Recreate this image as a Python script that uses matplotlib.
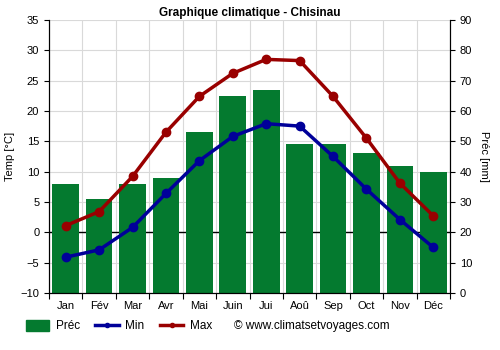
import matplotlib
matplotlib.use("Agg")
import matplotlib.pyplot as plt
from matplotlib.patches import Patch
from matplotlib.lines import Line2D

# Monthly climate normals for Chisinau
months = ['Jan', 'Fév', 'Mar', 'Avr', 'Mai', 'Juin', 'Jui', 'Aoû', 'Sep', 'Oct', 'Nov', 'Déc']
precip = [36, 31, 36, 38, 53, 65, 67, 49, 49, 46, 42, 40]
t_min = [-4.1, -2.9, 0.8, 6.4, 11.8, 15.8, 17.9, 17.5, 12.5, 7.1, 2.1, -2.5]
t_max = [1.1, 3.4, 9.2, 16.5, 22.4, 26.2, 28.5, 28.3, 22.4, 15.5, 8.1, 2.7]

green = '#047a2f'
red = '#990000'
blue = '#000099'
grid_col = '#d9d9d9'

plt.rcParams['font.family'] = ['Liberation Sans', 'DejaVu Sans']
plt.rcParams['font.size'] = 8

fig, ax1 = plt.subplots(figsize=(5, 3.5), dpi=100)
fig.subplots_adjust(left=0.098, right=0.9, top=0.943, bottom=0.163)
ax2 = ax1.twinx()

x = range(len(months))

# precipitation bars on the right axis, kept behind the temperature curves
ax2.bar(x, precip, width=0.8, color=green, zorder=2)
ax2.set_ylim(0, 90)
ax2.set_yticks(range(0, 91, 10))
ax2.set_ylabel('Préc [mm]', rotation=270, labelpad=12)
for k in range(0, 91, 10):
    ax2.axhline(k, color=grid_col, lw=0.8, zorder=0)
for k in range(13):
    ax2.axvline(k - 0.5, color=grid_col, lw=0.8, zorder=0)
# 0 °C line (20 mm on the right scale)
ax2.axhline(20, color='black', lw=1.0, zorder=1)

# temperature curves on the left axis
ax1.set_zorder(ax2.get_zorder() + 1)
ax1.patch.set_visible(False)
ax1.plot(x, t_min, color=blue, lw=2.5, marker='o', ms=6, zorder=3)
ax1.plot(x, t_max, color=red, lw=2.5, marker='o', ms=6, zorder=3)
ax1.set_ylim(-10, 35)
ax1.set_yticks(range(-10, 36, 5))
ax1.set_xlim(-0.5, 11.5)
ax1.set_xticks([k - 0.5 for k in range(13)])
ax1.set_xticklabels([])
ax1.set_xticks(list(x), months, minor=True)
ax1.tick_params(axis='x', which='minor', length=0, pad=6)
ax1.tick_params(axis='x', which='major', length=4)
ax1.set_ylabel('Temp [°C]')

for ax in (ax1, ax2):
    ax.spines['top'].set_visible(False)

ax1.set_title('Graphique climatique - Chisinau', fontsize=8.5, fontweight='bold', pad=3)

handles = [
    Patch(color=green, label='Préc'),
    Line2D([], [], color=blue, lw=2.5, marker='o', ms=3, label='Min'),
    Line2D([], [], color=red, lw=2.5, marker='o', ms=3, label='Max'),
]
fig.legend(handles=handles, loc='center left', bbox_to_anchor=(0.03, 0.068), ncol=3,
           frameon=False, handlelength=2.0, handleheight=1.0, handletextpad=0.55,
           columnspacing=1.3, fontsize=8.5)
fig.text(0.468, 0.068, '© www.climatsetvoyages.com', va='center', fontsize=8.5)

fig.savefig('out.png', dpi=100)
